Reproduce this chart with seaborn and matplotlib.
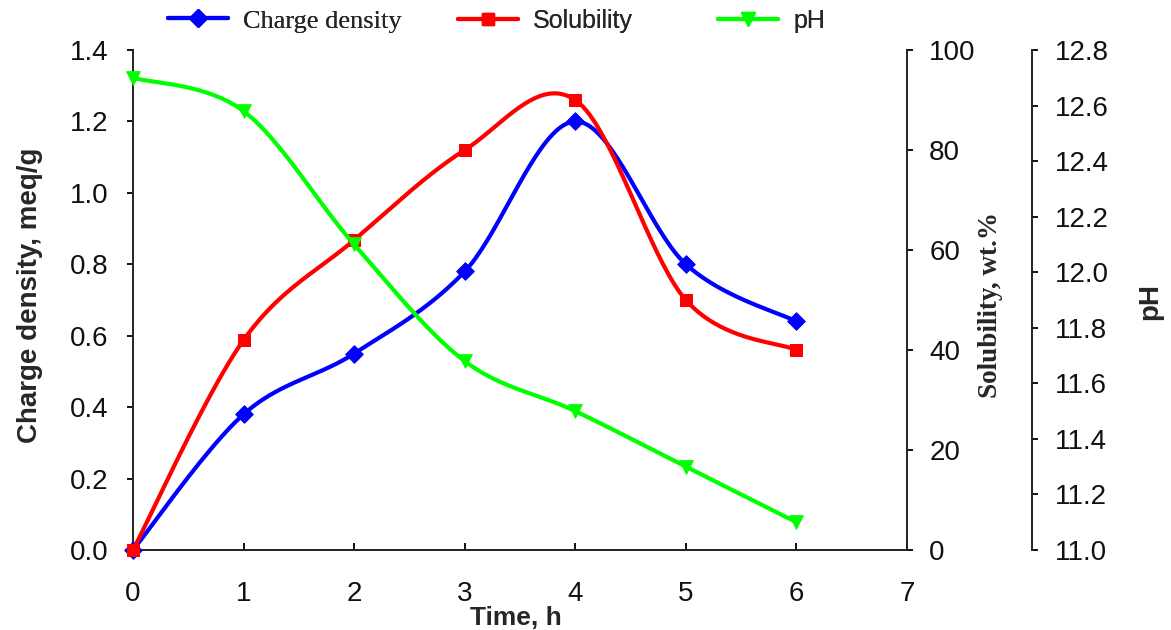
import numpy as np
import pandas as pd
import matplotlib
matplotlib.use("Agg")
import matplotlib.pyplot as plt
import seaborn as sns
from matplotlib.lines import Line2D

# ---- data ----
time_h = [0, 1, 2, 3, 4, 5, 6]
charge_density = [0.0, 0.38, 0.55, 0.78, 1.20, 0.80, 0.64]
solubility = [0.0, 42.0, 62.0, 80.0, 90.0, 50.0, 40.0]
ph_values = [12.70, 12.58, 12.10, 11.68, 11.50, 11.30, 11.10]

x_ticks = [0, 1, 2, 3, 4, 5, 6, 7]
cd_ticks = [0.0, 0.2, 0.4, 0.6, 0.8, 1.0, 1.2, 1.4]
sol_ticks = [0, 20, 40, 60, 80, 100]
ph_ticks = [11.0, 11.2, 11.4, 11.6, 11.8, 12.0, 12.2, 12.4, 12.6, 12.8]

sns.set_theme(style="ticks")
plt.rcParams['font.family'] = ['Liberation Sans', 'DejaVu Sans']

W, H = 1171, 630
fig = plt.figure(figsize=(W / 100, H / 100), dpi=100)
ax = fig.add_axes([133 / W, 80 / H, 774 / W, 500 / H])
ax2 = ax.twinx()
ax3 = ax.twinx()
ax3.spines['right'].set_position(('axes', (1032 - 133) / 774))


def smooth(x, y, xr, yr, n=40):
    """Excel-like smoothed line (Catmull-Rom Bezier) computed in screen space."""
    x = np.asarray(x, float) / xr
    y = np.asarray(y, float) / yr
    P = np.column_stack([x, y])
    out = []
    for i in range(len(P) - 1):
        p0 = P[i - 1] if i > 0 else P[i]
        p1, p2 = P[i], P[i + 1]
        p3 = P[i + 2] if i + 2 < len(P) else P[i + 1]
        c1 = p1 + (p2 - p0) / 6
        c2 = p2 - (p3 - p1) / 6
        t = np.linspace(0, 1, n)[:, None]
        seg = ((1 - t) ** 3) * p1 + 3 * ((1 - t) ** 2) * t * c1 + 3 * (1 - t) * t ** 2 * c2 + t ** 3 * p2
        out.append(seg if i == 0 else seg[1:])
    S = np.vstack(out)
    return S[:, 0] * xr, S[:, 1] * yr


lw = 3.0
xr = 7 / 774
BLUE, RED, GREEN = '#0000FF', '#FF0000', '#00FF00'

# charge density
sx, sy = smooth(time_h, charge_density, xr, 1.4 / 500)
ax.plot(sx, sy, color=BLUE, lw=lw, zorder=3, clip_on=False)
sns.scatterplot(x=time_h, y=charge_density, ax=ax, marker='D', s=80, color=BLUE,
                edgecolor=BLUE, zorder=4, legend=False, clip_on=False)

# solubility
sx, sy = smooth(time_h, solubility, xr, 100 / 500)
ax2.plot(sx, sy, color=RED, lw=lw, zorder=3, clip_on=False)
sns.scatterplot(x=time_h, y=solubility, ax=ax2, marker='s', s=80, color=RED,
                edgecolor=RED, zorder=4, legend=False, clip_on=False)

# pH
ph0 = 11.0
sx, sy = smooth(time_h, np.array(ph_values) - ph0, xr, 1.8 / 500)
ax3.plot(sx, sy + ph0, color=GREEN, lw=lw, zorder=3, clip_on=False)
sns.scatterplot(x=time_h, y=ph_values, ax=ax3, marker='v', s=95, color=GREEN,
                edgecolor=GREEN, zorder=4, legend=False, clip_on=False)

ax.set_xlim(0, 7)
ax.set_ylim(0, 1.4)
ax2.set_ylim(0, 100)
ax3.set_ylim(11.0, 12.8)

tick_fs = 20
ax.set_xticks(x_ticks)
ax.set_xticklabels([str(v) for v in x_ticks], fontsize=tick_fs)
ax.set_yticks(cd_ticks)
ax.set_yticklabels([f"{v:.1f}" for v in cd_ticks], fontsize=tick_fs)
ax2.set_yticks(sol_ticks)
ax2.set_yticklabels([str(v) for v in sol_ticks], fontsize=tick_fs)
ax3.set_yticks(ph_ticks)
ax3.set_yticklabels([f"{v:.1f}" for v in ph_ticks], fontsize=tick_fs)

for a in (ax, ax2, ax3):
    for s in a.spines.values():
        s.set_color('#222222')
        s.set_linewidth(1.4)
    a.spines['top'].set_visible(False)

ax.spines['right'].set_visible(False)
ax2.spines['left'].set_visible(False)
ax2.spines['bottom'].set_visible(False)
ax3.spines['left'].set_visible(False)
ax3.spines['bottom'].set_visible(False)

ax.tick_params(axis='x', direction='in', length=5, width=1.4, pad=22, colors='#111111')
ax.tick_params(axis='y', direction='out', length=4.5, width=1.4, pad=13, colors='#111111')
ax2.tick_params(axis='y', direction='out', length=4.5, width=1.4, pad=11.5, colors='#111111')
ax3.tick_params(axis='y', direction='out', length=4.5, width=1.4, pad=12, colors='#111111')

ax.set_xlabel("Time, h", fontsize=19, fontweight='bold', family='Liberation Sans')
ax.xaxis.set_label_coords(0.495, (550 - 606) / 500)
ax.set_ylabel("Charge density, meq/g", fontsize=20, fontweight='bold', family='Liberation Sans')
ax.yaxis.set_label_coords((43 - 133) / 774, (550 - 295) / 500)
ax2.set_ylabel("Solubility, wt.%", fontsize=19.5, fontweight='bold', family='Liberation Serif')
ax2.yaxis.set_label_coords((978 - 133) / 774, (550 - 305) / 500)
ax3.set_ylabel("pH", fontsize=20, fontweight='bold', family='Liberation Sans')
ax3.yaxis.set_label_coords((1137 - 133) / 774, (550 - 301) / 500)

# legend: three separate entries placed across the top
entries = [
    (Line2D([], [], color=BLUE, lw=lw, marker='D', markersize=9), "Charge density", 168, 'Liberation Serif', 19),
    (Line2D([], [], color=RED, lw=lw, marker='s', markersize=9), "Solubility", 458, 'Liberation Sans', 18),
    (Line2D([], [], color=GREEN, lw=lw, marker='v', markersize=10), "pH", 718, 'Liberation Sans', 18),
]
for h, lab, xpx, fam, fs in entries:
    leg = fig.legend([h], [lab], loc='center left', bbox_to_anchor=(xpx / W, 1 - 21 / H),
                     frameon=False, prop={'family': fam, 'size': fs},
                     handlelength=60 / (fs * 1.389), handletextpad=15 / (fs * 1.389),
                     borderpad=0, borderaxespad=0)
    fig.add_artist(leg)

fig.savefig("out.png", dpi=100)
